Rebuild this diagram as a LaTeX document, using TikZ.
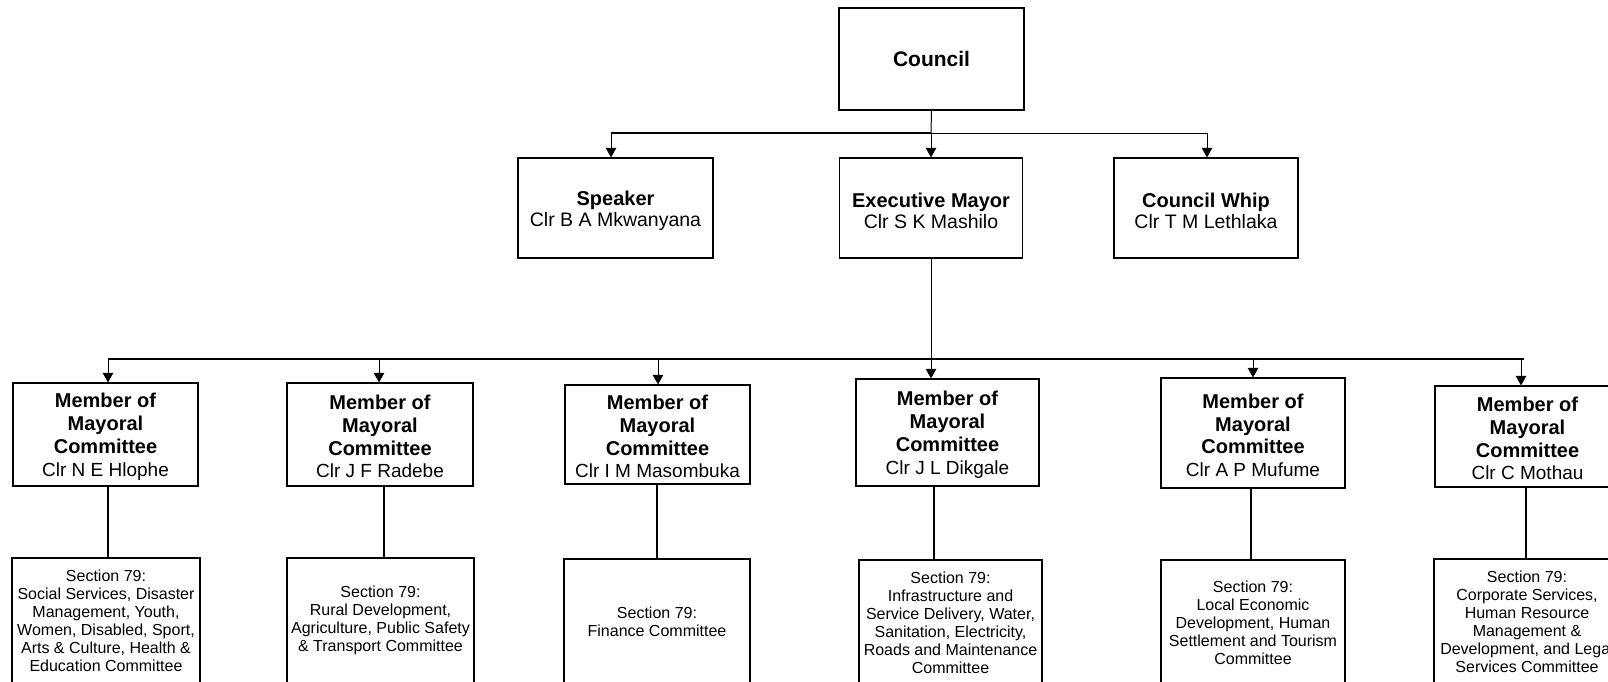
\documentclass[tikz,border=0pt]{standalone}
\usepackage{fontspec}
\setmainfont{Liberation Sans}
\usetikzlibrary{arrows.meta}
\newcommand{\headfont}{\fontsize{20}{21}\selectfont\bfseries}
\newcommand{\topstrut}{\rule{0pt}{21pt}}
\newcommand{\mmcstrut}{\rule{0pt}{19pt}}
\begin{document}
\begin{tikzpicture}[x=1pt,y=-1pt,
  boxbase/.style={draw=black, line width=1.2pt, inner sep=0pt, align=center, text=black},
  topbox/.style={boxbase, minimum height=100pt, font=\fontsize{19.5}{21}\selectfont},
  headbox/.style={boxbase, font=\fontsize{21}{23}\selectfont\bfseries},
  mmcbox/.style={boxbase, font=\fontsize{19}{22.7}\selectfont},
  secbox/.style={boxbase, minimum height=125pt, font=\fontsize{16}{18}\selectfont},
  link/.style={line width=1pt},
  busline/.style={line width=2pt},
  drop/.style={line width=2pt},
  arr/.style={line width=1pt, -{Triangle[length=9.5pt,width=10.5pt]}}
]
\fill[white] (0,0) rectangle (1608,681);
\clip (0,0) rectangle (1608,681);

% top level
\node[headbox, minimum width=185pt, minimum height=102pt] (council) at (931.5,59) {Council};
\node[topbox, minimum width=195pt] (speaker) at (615.5,208) {\topstrut{\headfont Speaker}\\Clr B A Mkwanyana};
\node[topbox, minimum width=183pt] (mayor) at (931,208) {\topstrut{\headfont Executive Mayor}\\Clr S K Mashilo};
\node[topbox, minimum width=184pt] (whip) at (1206,208) {\topstrut{\headfont Council Whip}\\Clr T M Lethlaka};

% members of the mayoral committee
\newcommand{\mmcline}[1]{{\fontsize{20}{22.7}\selectfont\bfseries #1}}
\newcommand{\mmctext}[1]{\mmcstrut\mmcline{Member of}\\\mmcline{Mayoral}\\\mmcline{Committee}\\#1}
\node[mmcbox, minimum width=185pt, minimum height=103pt] (m1) at (105.5,434.5) {\mmctext{Clr N E Hlophe}};
\node[mmcbox, minimum width=186pt, minimum height=103pt] (m2) at (380,434.5) {\mmctext{Clr J F Radebe}};
\node[mmcbox, minimum width=185pt, minimum height=99pt] (m3) at (657.5,434.5) {\mmctext{Clr I M Masombuka}};
\node[mmcbox, minimum width=183pt, minimum height=107pt] (m4) at (947.5,432.5) {\mmctext{Clr J L Dikgale}};
\node[mmcbox, minimum width=184pt, minimum height=110pt] (m5) at (1253,433) {\mmctext{Clr A P Mufume}};
\node[mmcbox, minimum width=185pt, minimum height=101pt] (m6) at (1527.5,436.5) {\mmctext{Clr C Mothau}};

% section 79 committees
\node[secbox, minimum width=188pt] (s1) at (106,620.5) {Section 79:\\Social Services, Disaster\\Management, Youth,\\Women, Disabled, Sport,\\Arts \& Culture, Health \&\\Education Committee};
\node[secbox, minimum width=187pt] (s2) at (380.5,620.5) {Section 79:\\Rural Development,\\Agriculture, Public Safety\\\& Transport Committee};
\node[secbox, minimum width=186pt] (s3) at (657,621.5) {Section 79:\\Finance Committee};
\node[secbox, minimum width=183pt] (s4) at (950.5,622.5) {Section 79:\\Infrastructure and\\Service Delivery, Water,\\Sanitation, Electricity,\\Roads and Maintenance\\Committee};
\node[secbox, minimum width=184pt] (s5) at (1253,622.5) {Section 79:\\Local Economic\\Development, Human\\Settlement and Tourism\\Committee};
\node[secbox, minimum width=186pt] (s6) at (1527,621.5) {Section 79:\\Corporate Services,\\Human Resource\\Management \&\\Development, and Legal\\Services Committee};

% council to its office bearers
\coordinate (tb) at (931,133);
\coordinate (tbL) at (611,133);
\coordinate (tbR) at (1207,133);
\draw[link] (council.south) -- (tb);
\draw[busline] (tb) -- (tbL);
\draw[link] (tb) -- (tbR);
\draw[arr] (tbL) -- (tbL |- speaker.north);
\draw[arr] (tb) -- (tb |- mayor.north);
\draw[arr] (tbR) -- (tbR |- whip.north);

% executive mayor to the committee members
\coordinate (bb) at (931,359);
\coordinate (bL) at (108,359);
\coordinate (bR) at (1524,359);
\draw[link] (mayor.south) -- (bb);
\draw[busline] (bL) -- (bR);
\coordinate (a1) at (108,359);
\coordinate (a2) at (379,359);
\coordinate (a3) at (658,359);
\coordinate (a5) at (1253,359);
\coordinate (a6) at (1521,359);
\draw[arr] (a1) -- (a1 |- m1.north);
\draw[arr] (a2) -- (a2 |- m2.north);
\draw[arr] (a3) -- (a3 |- m3.north);
\draw[arr] (bb) -- (bb |- m4.north);
\draw[arr] (a5) -- (a5 |- m5.north);
\draw[arr] (a6) -- (a6 |- m6.north);

% committee members to their section 79 committees
\coordinate (d1) at (108,0);
\coordinate (d2) at (384,0);
\coordinate (d3) at (657,0);
\coordinate (d4) at (934,0);
\coordinate (d5) at (1251,0);
\coordinate (d6) at (1526,0);
\draw[drop] (d1 |- m1.south) -- (d1 |- s1.north);
\draw[drop] (d2 |- m2.south) -- (d2 |- s2.north);
\draw[drop] (d3 |- m3.south) -- (d3 |- s3.north);
\draw[drop] (d4 |- m4.south) -- (d4 |- s4.north);
\draw[drop] (d5 |- m5.south) -- (d5 |- s5.north);
\draw[drop] (d6 |- m6.south) -- (d6 |- s6.north);
\end{tikzpicture}
\end{document}
